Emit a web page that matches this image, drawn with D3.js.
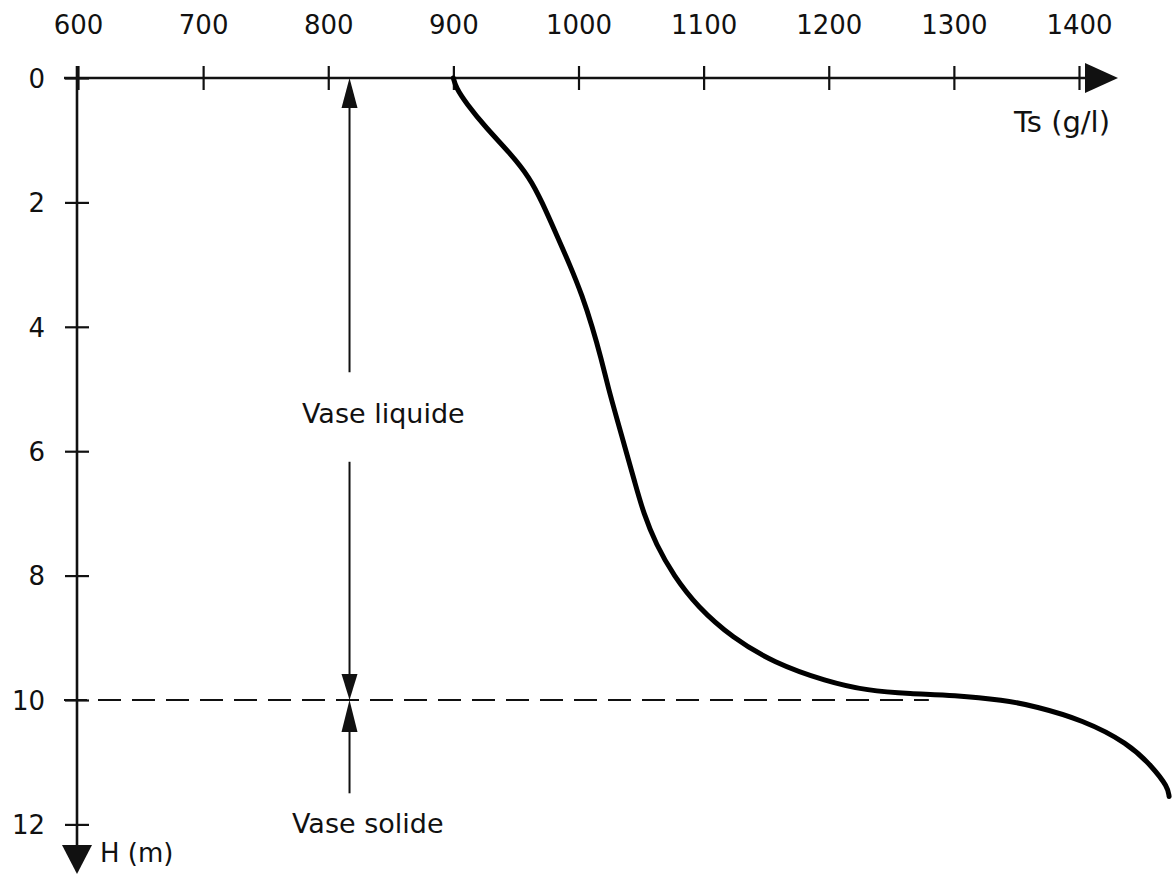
<!DOCTYPE html>
<html>
<head>
<meta charset="utf-8">
<script src="https://cdn.jsdelivr.net/npm/d3@7"></script>
<style>
  html, body { margin: 0; padding: 0; background: #fff; }
  svg text { font-family: "DejaVu Sans", sans-serif; fill: #111; }
</style>
</head>
<body>
<div id="chart"></div>
<script>
const WIDTH = 1173;
const HEIGHT = 875;

// tick values on each axis
const tsTicks = [600, 700, 800, 900, 1000, 1100, 1200, 1300, 1400];
const depthTicks = [0, 2, 4, 6, 8, 10, 12];

// profile: Ts (g/l) and depth H (m)
const profileTs = [900, 902, 910, 926, 945, 961, 971, 982, 993, 1003, 1011, 1018, 1024, 1031, 1038, 1045, 1052, 1062, 1076, 1095, 1123, 1156, 1198, 1231, 1265, 1300, 1340, 1365, 1403, 1439, 1459, 1471, 1472];
const profileH = [0, 0.15, 0.4, 0.8, 1.2, 1.6, 2.0, 2.5, 3.0, 3.5, 4.0, 4.5, 5.0, 5.5, 6.0, 6.5, 7.0, 7.5, 8.0, 8.5, 9.0, 9.4, 9.7, 9.85, 9.9, 9.92, 10.0, 10.1, 10.32, 10.69, 11.08, 11.4, 11.55];

// interface between liquid and solid mud
const interfaceDepth = 10;
const markerTs = 817;
const liquidGap = [4.73, 6.17];
const solidEnd = 11.5;

const x = d3.scaleLinear().domain([600, 1400]).range([78, 1079]);
const y = d3.scaleLinear().domain([0, 12]).range([78, 824.4]);

const svg = d3.select("#chart")
  .append("svg")
  .attr("width", WIDTH)
  .attr("height", HEIGHT)
  .attr("viewBox", `0 0 ${WIDTH} ${HEIGHT}`);

const x0 = x(600);
const y0 = y(0);

// x axis
const xAxis = svg.append("g")
  .attr("transform", `translate(0,${y0})`)
  .call(d3.axisTop(x).tickValues(tsTicks).tickSize(12).tickFormat(d3.format("d")));
xAxis.select(".domain").remove();
xAxis.selectAll(".tick line")
  .attr("y1", -12).attr("y2", 12)
  .attr("stroke", "#111").attr("stroke-width", 2.2);
xAxis.selectAll(".tick text")
  .attr("y", -44).attr("dy", 0)
  .style("font-size", "26px").style("font-family", "DejaVu Sans, sans-serif").attr("fill", "#111");

svg.append("line")
  .attr("x1", x0 - 14).attr("x2", 1090)
  .attr("y1", y0).attr("y2", y0)
  .attr("stroke", "#111").attr("stroke-width", 2.6);
svg.append("path")
  .attr("d", `M1085,${y0 - 15}L1118,${y0}L1085,${y0 + 15}Z`)
  .attr("fill", "#111");

// y axis
const yAxis = svg.append("g")
  .attr("transform", `translate(${x0},0)`)
  .call(d3.axisLeft(y).tickValues(depthTicks).tickSize(12));
yAxis.select(".domain").remove();
yAxis.selectAll(".tick line")
  .attr("x1", -13).attr("x2", 11)
  .attr("stroke", "#111").attr("stroke-width", 2.2);
yAxis.selectAll(".tick text")
  .attr("x", -33).attr("dy", "0.36em")
  .style("font-size", "26px").style("font-family", "DejaVu Sans, sans-serif").attr("fill", "#111");

svg.append("line")
  .attr("x1", x0 - 1).attr("x2", x0 - 1)
  .attr("y1", y0 - 12).attr("y2", 850)
  .attr("stroke", "#111").attr("stroke-width", 2.6);
svg.append("path")
  .attr("d", `M${x0 - 16},845L${x0 - 1},874L${x0 + 14},845Z`)
  .attr("fill", "#111");

// axis titles
svg.append("text")
  .attr("x", 1110).attr("y", 132)
  .attr("text-anchor", "end")
  .style("font-size", "29px")
  .text("Ts (g/l)");
svg.append("text")
  .attr("x", 100).attr("y", 862)
  .style("font-size", "26px")
  .text("H (m)");

// dashed interface line
svg.append("line")
  .attr("x1", x0 - 14).attr("x2", x(1280))
  .attr("y1", y(interfaceDepth)).attr("y2", y(interfaceDepth))
  .attr("stroke", "#111").attr("stroke-width", 2.2)
  .attr("stroke-dasharray", "23,11");

// dimension arrows
const mx = x(markerTs);
const lineStyle = (sel) => sel.attr("stroke", "#111").attr("stroke-width", 2);
svg.append("line").call(lineStyle)
  .attr("x1", mx).attr("x2", mx)
  .attr("y1", y(0) + 20).attr("y2", y(liquidGap[0]));
svg.append("line").call(lineStyle)
  .attr("x1", mx).attr("x2", mx)
  .attr("y1", y(liquidGap[1])).attr("y2", y(interfaceDepth) - 20);
svg.append("line").call(lineStyle)
  .attr("x1", mx).attr("x2", mx)
  .attr("y1", y(interfaceDepth) + 20).attr("y2", y(solidEnd));

const yi = y(interfaceDepth);
svg.append("path")
  .attr("d", `M${mx - 8},${y0 + 30}L${mx},${y0}L${mx + 8},${y0 + 30}Z`)
  .attr("fill", "#111");
svg.append("path")
  .attr("d", `M${mx - 8},${yi - 26}L${mx},${yi}L${mx + 8},${yi - 26}Z`)
  .attr("fill", "#111");
svg.append("path")
  .attr("d", `M${mx - 8},${yi + 32}L${mx},${yi}L${mx + 8},${yi + 32}Z`)
  .attr("fill", "#111");

svg.append("text")
  .attr("x", 302).attr("y", 423)
  .style("font-size", "27px")
  .text("Vase liquide");
svg.append("text")
  .attr("x", 292).attr("y", 833)
  .style("font-size", "27px")
  .text("Vase solide");

// concentration profile
const profile = profileTs.map((ts, i) => ({ ts, h: profileH[i] }));
const line = d3.line()
  .x((d) => x(d.ts))
  .y((d) => y(d.h))
  .curve(d3.curveBasis);

svg.append("path")
  .datum(profile)
  .attr("d", line)
  .attr("fill", "none")
  .attr("stroke", "#000")
  .attr("stroke-width", 5)
  .attr("stroke-linecap", "round");
</script>
</body>
</html>
